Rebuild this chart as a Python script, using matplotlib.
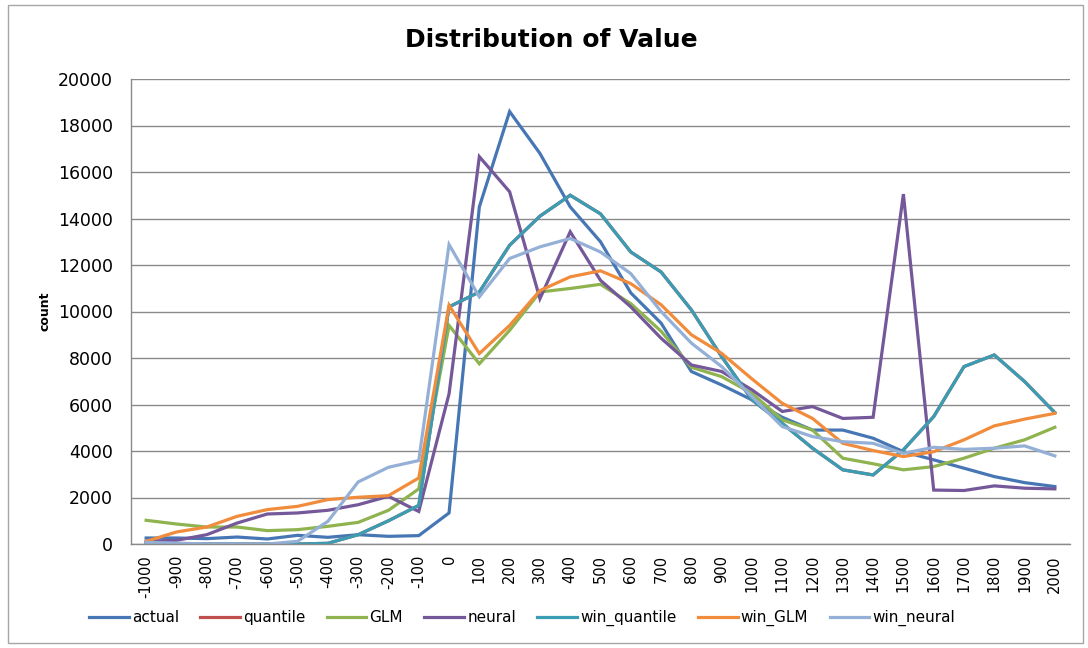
import matplotlib
matplotlib.use("Agg")
import matplotlib.pyplot as plt
from matplotlib.patches import Rectangle

# categories on the x axis
bins = list(range(-1000, 2001, 100))

actual = [258, 258, 230, 300, 215, 373, 287, 400, 330, 360,
          1335, 14500, 18600, 16800, 14500, 13000, 10800, 9500, 7420, 6840,
          6200, 5450, 4900, 4900, 4550, 3970, 3620, 3260, 2900, 2640, 2470]
win_quantile = [40, 0, 0, 0, 0, 0, 30, 400, 1000, 1660,
                10200, 10840, 12850, 14100, 15000, 14200, 12560, 11700, 10070, 8060,
                6200, 5190, 4120, 3190, 2970, 4050, 5480, 7630, 8130, 6990, 5650]
# quantile is fully hidden under the later series in the original
quantile = list(win_quantile)
glm = [1020, 860, 730, 730, 575, 617, 760, 930, 1450, 2370,
       9400, 7750, 9190, 10840, 10990, 11170, 10340, 9150, 7600, 7200,
       6480, 5340, 4900, 3690, 3450, 3190, 3330, 3690, 4120, 4480, 5020]
neural = [115, 158, 400, 900, 1290, 1335, 1450, 1690, 2050, 1400,
          6460, 16660, 15150, 10550, 13430, 11340, 10200, 8850, 7700, 7420,
          6630, 5700, 5910, 5400, 5450, 15050, 2320, 2300, 2500, 2400, 2370]
win_glm = [115, 516, 730, 1190, 1480, 1620, 1910, 2010, 2080, 2840,
           10270, 8190, 9400, 10900, 11490, 11750, 11200, 10290, 9000, 8200,
           7100, 6050, 5400, 4330, 4020, 3760, 3970, 4480, 5080, 5370, 5620]
win_neural = [70, 40, 0, 0, 0, 115, 975, 2670, 3300, 3590,
              12880, 10630, 12280, 12780, 13140, 12560, 11630, 10000, 8640, 7630,
              6340, 5050, 4620, 4400, 4330, 3900, 4160, 4070, 4120, 4220, 3790]

series = [
    ("actual", actual, "#4677b4"),
    ("quantile", quantile, "#c0504d"),
    ("GLM", glm, "#8fb34f"),
    ("neural", neural, "#75589a"),
    ("win_quantile", win_quantile, "#3a9db4"),
    ("win_GLM", win_glm, "#f08c3c"),
    ("win_neural", win_neural, "#95b0d6"),
]

fig = plt.figure(figsize=(10.88, 6.48), dpi=100)
ax = fig.add_axes([131 / 1088, 1 - 544 / 648, (1070 - 131) / 1088, (544 - 79) / 648])

x = list(range(len(bins)))
for name, values, color in series:
    ax.plot(x, values, color=color, lw=2.3, label=name, solid_joinstyle="miter")

ax.set_xlim(-0.5, len(bins) - 0.5)
ax.set_ylim(0, 20000)
ax.set_yticks(range(0, 20001, 2000))
ax.set_xticks(x)
ax.set_xticklabels([str(b) for b in bins], rotation=90, fontsize=10.5)
ax.tick_params(axis="y", length=0, pad=13, labelsize=12.5)
ax.tick_params(axis="x", length=0, pad=8)
ax.grid(axis="y", color="#8a8a8a", lw=1)
ax.set_axisbelow(True)
for side in ["top", "right"]:
    ax.spines[side].set_visible(False)
for side in ["left", "bottom"]:
    ax.spines[side].set_color("#8a8a8a")
    ax.spines[side].set_linewidth(1)

fig.text(45 / 1088, 1 - 311 / 648, "count", rotation=90, fontsize=9,
         fontweight="bold", ha="center", va="center")
fig.text(551 / 1088, 1 - 40 / 648, "Distribution of Value", fontsize=18,
         fontweight="bold", ha="center", va="center")

fig.legend(loc="center", bbox_to_anchor=(522 / 1088, 1 - 618 / 648), ncol=7,
           frameon=False, fontsize=11, handlelength=2.6, handletextpad=0.2,
           columnspacing=1.4)

fig.patches.append(Rectangle((8 / 1088, 5 / 648), 1075 / 1088, 638 / 648,
                             transform=fig.transFigure, fill=False,
                             edgecolor="#a6a6a6", lw=1))

fig.savefig("out.png", dpi=100)
